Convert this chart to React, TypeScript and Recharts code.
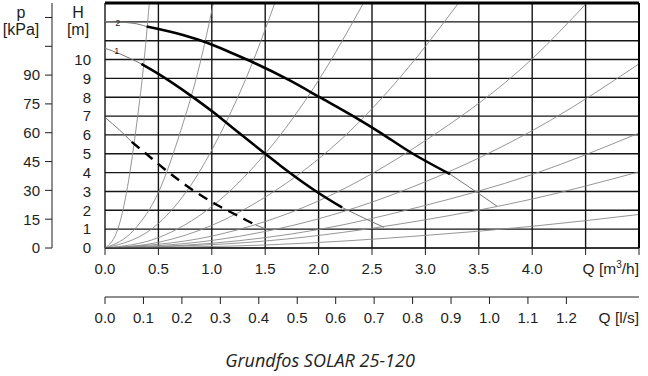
import React from 'react';
import { ComposedChart, Line, XAxis, YAxis, CartesianGrid, ReferenceLine, LabelList } from 'recharts';

// ---- axes / ticks ----
const qTicks = [0, 0.5, 1, 1.5, 2, 2.5, 3, 3.5, 4, 4.5, 5];
const lsTicks = [0, 0.1, 0.2, 0.3, 0.4, 0.5, 0.6, 0.7, 0.8, 0.9, 1.0, 1.1, 1.2];
const hTicks = [0, 1, 2, 3, 4, 5, 6, 7, 8, 9, 10, 11, 12, 13];
const pTicks = [0, 15, 30, 45, 60, 75, 90, 105, 120];
const Q_MAX = 5; // m3/h
const H_MAX = 13; // m
const LS_MAX = 5 / 3.6; // l/s equal to 5 m3/h
const P_MAX = 13 * 9.81; // kPa equal to 13 m

// ---- pump curve 2 (max speed) ----
const curve2Start = [
  { q: 0, h: 12.02 }, { q: 0.27, h: 11.92 }, { q: 0.39, h: 11.75 },
];
const curve2Main = [
  { q: 0.39, h: 11.75 }, { q: 0.73, h: 11.3 }, { q: 0.95, h: 10.9 }, { q: 1.17, h: 10.39 },
  { q: 1.36, h: 9.92 }, { q: 1.73, h: 8.89 }, { q: 2.01, h: 8.0 }, { q: 2.39, h: 6.77 },
  { q: 2.55, h: 6.22 }, { q: 2.86, h: 5.08 }, { q: 3.23, h: 3.92 },
];
const curve2End = [{ q: 3.23, h: 3.92 }, { q: 3.45, h: 3.08 }, { q: 3.67, h: 2.22 }];

// ---- pump curve 1 ----
const curve1Start = [{ q: 0, h: 10.6 }, { q: 0.14, h: 10.3 }, { q: 0.34, h: 9.77 }];
const curve1Main = [
  { q: 0.34, h: 9.77 }, { q: 0.5, h: 9.24 }, { q: 0.8, h: 8.1 }, { q: 1.015, h: 7.2 },
  { q: 1.2, h: 6.35 }, { q: 1.5, h: 5.0 }, { q: 1.64, h: 4.38 }, { q: 2.0, h: 2.92 },
  { q: 2.22, h: 2.15 },
];
const curve1End = [{ q: 2.22, h: 2.15 }, { q: 2.42, h: 1.6 }, { q: 2.61, h: 1.1 }];

// ---- dashed minimum curve ----
const curveMinStart = [{ q: 0, h: 6.93 }, { q: 0.14, h: 6.24 }, { q: 0.25, h: 5.63 }];
const curveMinMain = [
  { q: 0.25, h: 5.63 }, { q: 0.36, h: 5.12 }, { q: 0.55, h: 4.22 }, { q: 0.8, h: 3.16 },
  { q: 1.05, h: 2.28 }, { q: 1.23, h: 1.75 }, { q: 1.41, h: 1.22 },
];
const curveMinEnd = [{ q: 1.41, h: 1.22 }, { q: 1.52, h: 0.98 }];

// ---- system curves (thin grey) ----
const sysA = [{ q: 0, h: 0 }, { q: 0.12, h: 1.0 }, { q: 0.2, h: 2.9 }, { q: 0.29, h: 6.3 }, { q: 0.36, h: 9.6 }, { q: 0.415, h: 13 }];
const sysB = [{ q: 0, h: 0 }, { q: 0.27, h: 0.95 }, { q: 0.5, h: 2.95 }, { q: 0.71, h: 6.24 }, { q: 0.89, h: 9.8 }, { q: 1.015, h: 13 }];
const sysC = [{ q: 0, h: 0 }, { q: 0.5, h: 1.3 }, { q: 0.8, h: 3.3 }, { q: 1.08, h: 6.07 }, { q: 1.35, h: 9.4 }, { q: 1.59, h: 13 }];
const sysD = [{ q: 0, h: 0 }, { q: 0.5, h: 0.55 }, { q: 1.0, h: 2.2 }, { q: 1.5, h: 5.0 }, { q: 2.0, h: 8.9 }, { q: 2.42, h: 13 }];
const sysE = [{ q: 0, h: 0 }, { q: 0.5, h: 0.3 }, { q: 1.0, h: 1.2 }, { q: 1.5, h: 2.7 }, { q: 2.3, h: 6.24 }, { q: 2.8, h: 9.3 }, { q: 3.31, h: 13 }];
const sysF = [{ q: 0, h: 0 }, { q: 1.0, h: 0.63 }, { q: 2.0, h: 2.5 }, { q: 3.0, h: 5.7 }, { q: 4.0, h: 10.04 }, { q: 4.51, h: 13 }];
const sysG = [{ q: 0, h: 0 }, { q: 1.0, h: 0.4 }, { q: 2.0, h: 1.55 }, { q: 2.95, h: 3.4 }, { q: 4.17, h: 6.77 }, { q: 5, h: 9.77 }];
const sysH = [{ q: 0, h: 0 }, { q: 1.0, h: 0.25 }, { q: 2.0, h: 0.98 }, { q: 2.95, h: 2.19 }, { q: 4.0, h: 3.9 }, { q: 5, h: 6.1 }];
const sysI = [{ q: 0, h: 0 }, { q: 1.5, h: 0.37 }, { q: 2.95, h: 1.45 }, { q: 4.0, h: 2.6 }, { q: 5, h: 4.04 }];
const sysJ = [{ q: 0, h: 0 }, { q: 1.5, h: 0.16 }, { q: 3.05, h: 0.69 }, { q: 4.0, h: 1.15 }, { q: 5, h: 1.78 }];
const systemCurves = [sysA, sysB, sysC, sysD, sysE, sysF, sysG, sysH, sysI, sysJ];

// ---- curve number labels ----
const curveLabels = [
  { q: 0.12, h: 11.95, name: '2' },
  { q: 0.11, h: 10.45, name: '1' },
];

const title = 'Grundfos SOLAR 25-120';

// helper so the l/s axis has values to scale (no visible mark: no "h" values)
const lsAxisValues = lsTicks.map((t) => ({ q: t }));

const FONT = '"Liberation Sans", Arial, sans-serif';
const INK = '#1e1e1e';
const tickStyle = { fill: INK, fontSize: 15, fontFamily: FONT };

const QLabel = (props: any) => {
  const vb = props.viewBox || {};
  return (
    <text x={vb.x + vb.width} y={vb.y + 26} textAnchor="end" fill={INK} fontSize={15.5} fontFamily={FONT}>
      Q [m<tspan fontSize={10} dy={-6}>3</tspan><tspan dy={6}>/h]</tspan>
    </text>
  );
};
const LsLabel = (props: any) => {
  const vb = props.viewBox || {};
  return (
    <text x={vb.x + vb.width} y={vb.y + 26} textAnchor="end" fill={INK} fontSize={15.5} fontFamily={FONT}>
      Q [l/s]
    </text>
  );
};
const PLabel = (props: any) => {
  const vb = props.viewBox || {};
  return (
    <g fill={INK} fontSize={16} fontFamily={FONT}>
      <text x={vb.x + 21} y={vb.y + 15} textAnchor="middle">p</text>
      <text x={vb.x + 21} y={vb.y + 32} textAnchor="middle">[kPa]</text>
    </g>
  );
};
const HLabel = (props: any) => {
  const vb = props.viewBox || {};
  return (
    <g fill={INK} fontSize={16} fontFamily={FONT}>
      <text x={vb.x + 26} y={vb.y + 15} textAnchor="middle">H</text>
      <text x={vb.x + 26} y={vb.y + 32} textAnchor="middle">[m]</text>
    </g>
  );
};

export default function App() {
  return (
    <div style={{ position: 'absolute', left: 0, top: 0, width: 648, height: 376, background: '#fff' }}>
      <ComposedChart width={648} height={376} margin={{ top: 3, right: 9, bottom: 39, left: 0 }}>
        <XAxis
          xAxisId="q1" type="number" dataKey="q" domain={[0, Q_MAX]} ticks={qTicks} allowDataOverflow
          interval={0} tickSize={7} tickMargin={8} height={49}
          stroke={INK} tick={tickStyle}
          tickFormatter={(v: number) => (v <= 4 ? v.toFixed(1) : '')}
          label={{ content: QLabel }}
        />
        <XAxis
          xAxisId="q2" type="number" dataKey="q" domain={[0, LS_MAX]} ticks={lsTicks} allowDataOverflow
          interval={0} tickSize={7} tickMargin={8} height={40}
          stroke={INK} tick={tickStyle}
          tickFormatter={(v: number) => v.toFixed(1)}
          label={{ content: LsLabel }}
        />
        <YAxis
          yAxisId="h" type="number" domain={[0, H_MAX]} ticks={hTicks} allowDataOverflow
          interval={0} width={53} tickSize={0} tickMargin={14} axisLine={false} tickLine={false}
          tick={tickStyle}
          tickFormatter={(v: number) => (v <= 10 ? String(v) : '')}
          label={{ content: HLabel }}
        />
        <YAxis
          yAxisId="p" type="number" domain={[0, P_MAX]} ticks={pTicks} allowDataOverflow
          interval={0} width={52} tickSize={7} tickMargin={5}
          stroke={INK} tick={tickStyle}
          tickFormatter={(v: number) => (v <= 90 ? String(v) : '')}
          label={{ content: PLabel }}
        />
        <CartesianGrid xAxisId="q1" yAxisId="h" stroke="#151515" strokeWidth={1.4} />

        <Line xAxisId="q2" yAxisId="h" data={lsAxisValues} dataKey="h" stroke="none" dot={false} isAnimationActive={false} />

        {systemCurves.map((d, i) => (
          <Line key={'sys' + i} xAxisId="q1" yAxisId="h" data={d} dataKey="h" type="monotone"
            stroke="#8a8a8a" strokeWidth={0.9} dot={false} isAnimationActive={false} />
        ))}

        <Line xAxisId="q1" yAxisId="h" data={curve2Start} dataKey="h" type="monotone" stroke="#777" strokeWidth={1} dot={false} isAnimationActive={false} />
        <Line xAxisId="q1" yAxisId="h" data={curve2Main} dataKey="h" type="monotone" stroke="#000" strokeWidth={2.6} dot={false} isAnimationActive={false} />
        <Line xAxisId="q1" yAxisId="h" data={curve2End} dataKey="h" type="monotone" stroke="#777" strokeWidth={1} dot={false} isAnimationActive={false} />

        <Line xAxisId="q1" yAxisId="h" data={curve1Start} dataKey="h" type="monotone" stroke="#777" strokeWidth={1} dot={false} isAnimationActive={false} />
        <Line xAxisId="q1" yAxisId="h" data={curve1Main} dataKey="h" type="monotone" stroke="#000" strokeWidth={2.6} dot={false} isAnimationActive={false} />
        <Line xAxisId="q1" yAxisId="h" data={curve1End} dataKey="h" type="monotone" stroke="#777" strokeWidth={1} dot={false} isAnimationActive={false} />

        <Line xAxisId="q1" yAxisId="h" data={curveMinStart} dataKey="h" type="monotone" stroke="#777" strokeWidth={1} dot={false} isAnimationActive={false} />
        <Line xAxisId="q1" yAxisId="h" data={curveMinMain} dataKey="h" type="monotone" stroke="#000" strokeWidth={2.4} strokeDasharray="10 7" dot={false} isAnimationActive={false} />
        <Line xAxisId="q1" yAxisId="h" data={curveMinEnd} dataKey="h" type="monotone" stroke="#777" strokeWidth={1} dot={false} isAnimationActive={false} />

        <ReferenceLine xAxisId="q1" yAxisId="h" y={H_MAX} stroke="#000" strokeWidth={3} />
        <ReferenceLine xAxisId="q1" yAxisId="h" x={Q_MAX} stroke="#000" strokeWidth={2} />

        <Line xAxisId="q1" yAxisId="h" data={curveLabels} dataKey="h" stroke="none" dot={false} isAnimationActive={false}>
          <LabelList dataKey="name" position="center" fill="#222" fontSize={9} fontFamily={FONT} />
        </Line>
      </ComposedChart>
      <div style={{
        position: 'absolute', left: 0, top: 351, width: 640, textAlign: 'center',
        fontFamily: '"Open Sans", sans-serif', fontStyle: 'italic', fontSize: 18, lineHeight: '18px', color: '#222',
      }}>
        {title}
      </div>
    </div>
  );
}
